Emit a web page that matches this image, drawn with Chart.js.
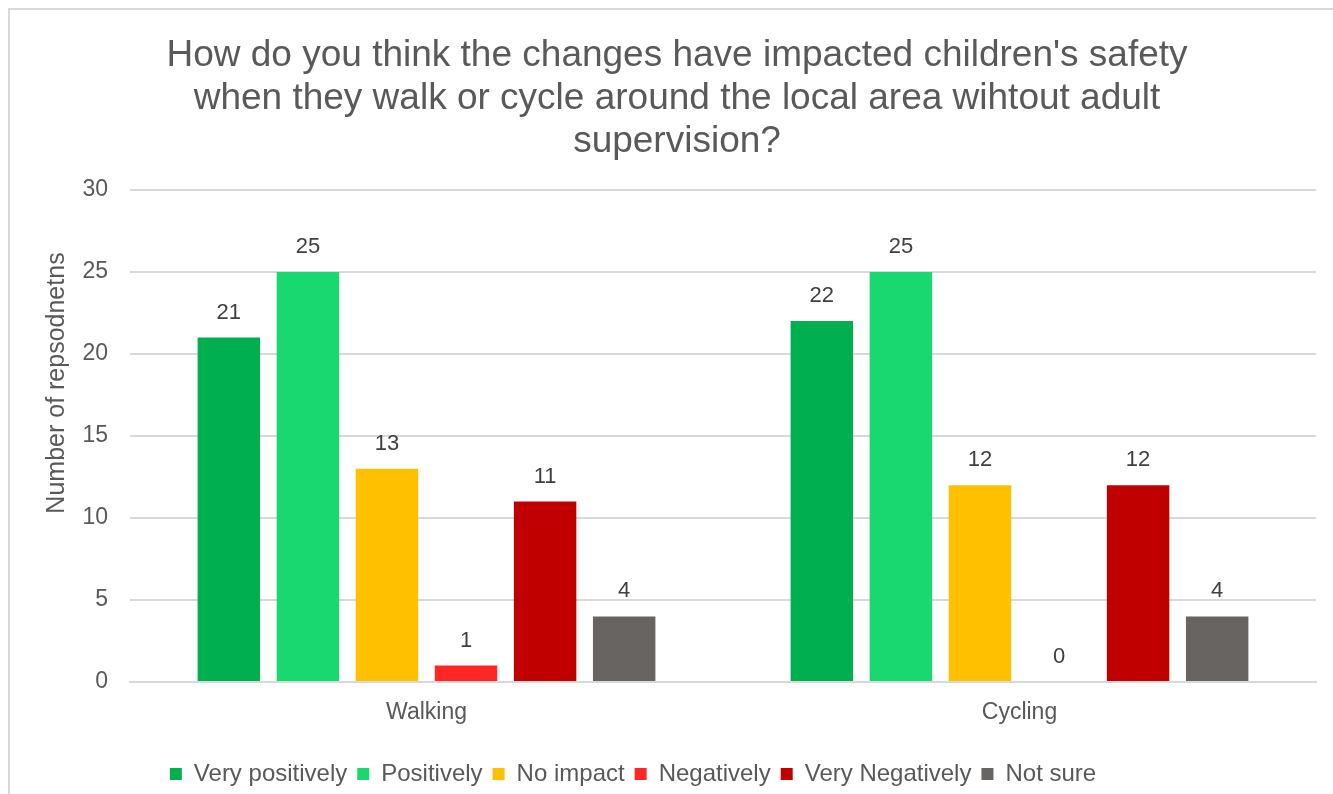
<!DOCTYPE html>
<html>
<head>
<meta charset="utf-8">
<title>Children's safety survey</title>
<script src="https://cdn.jsdelivr.net/npm/chart.js"></script>
<style>
    html, body { margin: 0; padding: 0; background: #ffffff; overflow: hidden; }
    canvas { display: block; }
</style>
</head>
<body>
<canvas id="chart" width="1333" height="796"></canvas>
<script>
// Chart data
const categories = ['Walking', 'Cycling'];
const seriesNames = ['Very positively', 'Positively', 'No impact', 'Negatively', 'Very Negatively', 'Not sure'];
const veryPositively = [21, 22];
const positively = [25, 25];
const noImpact = [13, 12];
const negatively = [1, 0];
const veryNegatively = [11, 12];
const notSure = [4, 4];
const yMin = 0;
const yMax = 30;
const yStep = 5;
const titleLines = [
    "How do you think the changes have impacted children's safety",
    "when they walk or cycle around the local area wihtout adult",
    "supervision?"
];
const yTitle = 'Number of repsodnetns';

const seriesValues = [veryPositively, positively, noImpact, negatively, veryNegatively, notSure];
const seriesColors = ['#00B050', '#19D86F', '#FFC000', '#FF2626', '#C00000', '#686462'];

Chart.defaults.font.family = "'Liberation Sans', Arial, sans-serif";
Chart.defaults.color = '#595959';

// light grey frame around the whole chart, like the office export
const framePlugin = {
    id: 'frame',
    beforeDraw(chart) {
        const ctx = chart.ctx;
        ctx.save();
        ctx.strokeStyle = '#d9d9d9';
        ctx.lineWidth = 2;
        ctx.strokeRect(9, 9, 1500, 1000);
        ctx.restore();
    }
};

// value labels above each bar
const valueLabels = {
    id: 'valueLabels',
    afterDatasetsDraw(chart) {
        const ctx = chart.ctx;
        ctx.save();
        ctx.font = "22px 'Liberation Sans', Arial, sans-serif";
        ctx.fillStyle = '#404040';
        ctx.textAlign = 'center';
        ctx.textBaseline = 'middle';
        chart.data.datasets.forEach((ds, i) => {
            chart.getDatasetMeta(i).data.forEach((bar, j) => {
                ctx.fillText(String(ds.data[j]), bar.x, bar.y - 25);
            });
        });
        ctx.restore();
    }
};

// axis title sits a bit above the plot middle in the original
const yTitlePlugin = {
    id: 'yTitle',
    afterDraw(chart) {
        const ctx = chart.ctx;
        ctx.save();
        ctx.translate(57, 383);
        ctx.rotate(-Math.PI / 2);
        ctx.font = "25px 'Liberation Sans', Arial, sans-serif";
        ctx.fillStyle = '#595959';
        ctx.textAlign = 'center';
        ctx.textBaseline = 'middle';
        ctx.fillText(yTitle, 0, 0);
        ctx.restore();
    }
};

// legend is centred a little left of the title
const legendShift = {
    id: 'legendShift',
    afterLayout(chart) {
        if (chart.legend) {
            chart.legend.left -= 44;
            chart.legend.right -= 44;
        }
    }
};

const chart = new Chart(document.getElementById('chart'), {
    type: 'bar',
    data: {
        labels: categories,
        datasets: seriesNames.map((name, i) => ({
            label: name,
            data: seriesValues[i],
            backgroundColor: seriesColors[i],
            categoryPercentage: 0.8,
            barPercentage: 0.79
        }))
    },
    options: {
        responsive: false,
        animation: false,
        layout: { padding: { left: 38, right: 17, top: 0, bottom: 0 } },
        plugins: {
            title: {
                display: true,
                text: titleLines,
                color: '#595959',
                font: { size: 37, weight: 'normal', lineHeight: 1.17 },
                padding: { top: 34, bottom: 26 }
            },
            legend: {
                position: 'bottom',
                labels: {
                    boxWidth: 12,
                    boxHeight: 12,
                    padding: 10,
                    color: '#595959',
                    font: { size: 24 }
                }
            },
            tooltip: { enabled: false }
        },
        scales: {
            x: {
                grid: { display: false, drawTicks: false },
                border: { color: '#d9d9d9', width: 2 },
                ticks: { color: '#595959', font: { size: 23 }, padding: 17 },
                afterFit(scale) { scale.height = 70; }
            },
            y: {
                min: yMin,
                max: yMax,
                grid: { color: '#d9d9d9', lineWidth: 2, drawTicks: false },
                border: { display: false },
                ticks: { stepSize: yStep, color: '#595959', font: { size: 23 }, padding: 22 },
                afterFit(scale) { scale.width = 92; }
            }
        }
    },
    plugins: [framePlugin, valueLabels, yTitlePlugin, legendShift]
});
</script>
</body>
</html>
